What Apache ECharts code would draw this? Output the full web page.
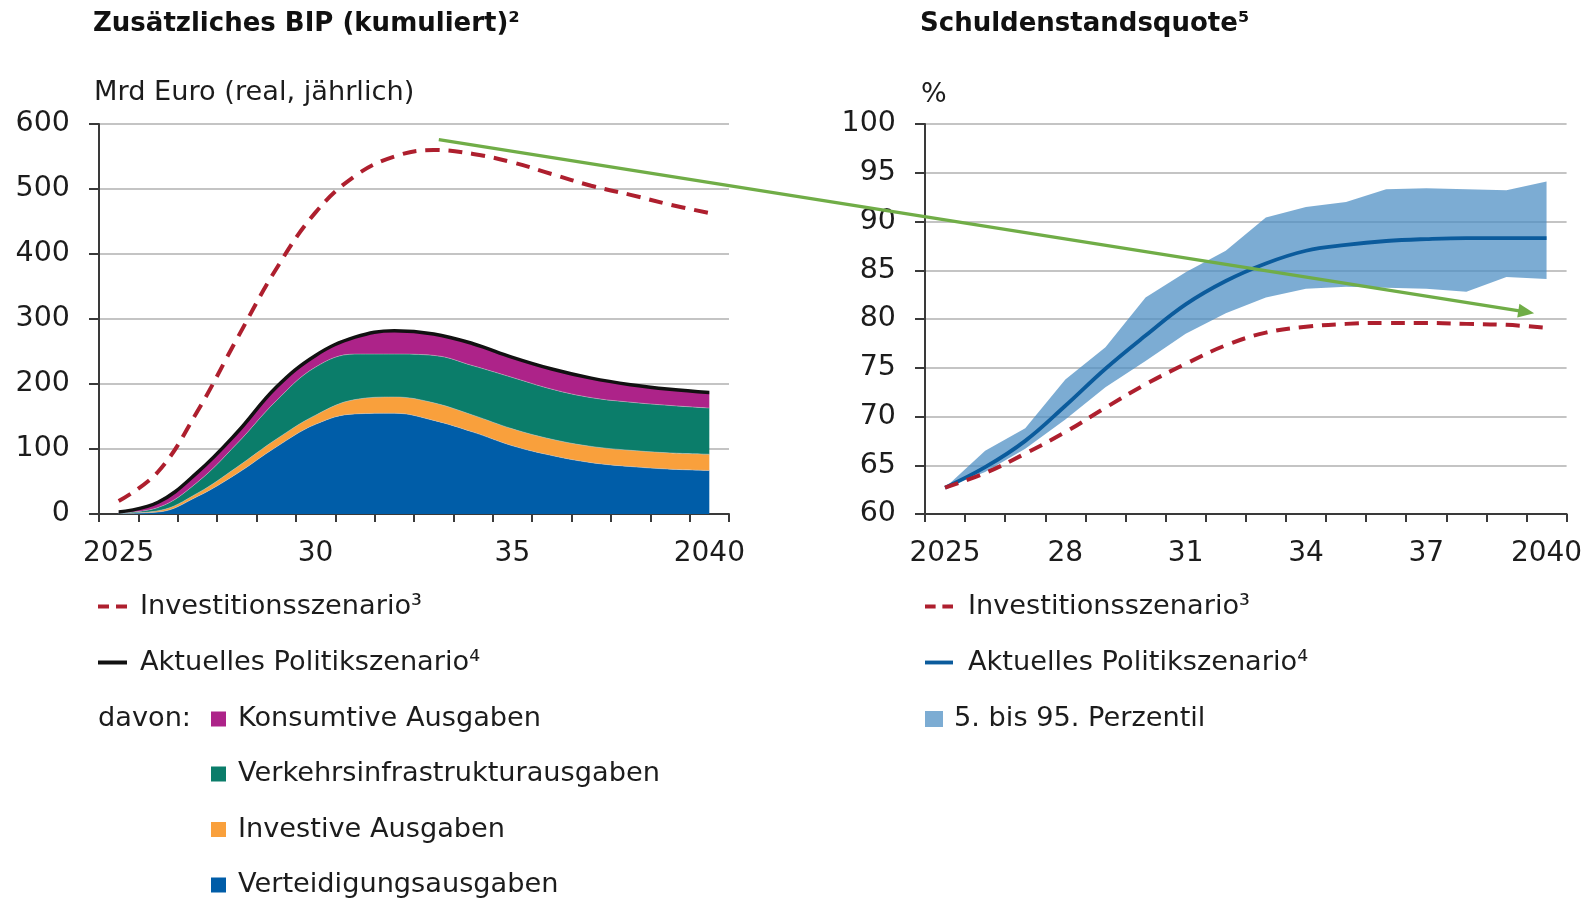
<!DOCTYPE html>
<html><head><meta charset="utf-8">
<script src="https://cdn.jsdelivr.net/npm/echarts@6/dist/echarts.min.js"></script>
<style>html,body{margin:0;padding:0;background:#fff}#c{width:1589px;height:898px}</style>
</head><body><div id="c"></div>
<script>
// ---------- data ----------
const years = ['2025','2026','2027','2028','2029','2030','2031','2032','2033','2034','2035','2036','2037','2038','2039','2040'];
const leftTickLabels  = ['2025','','','','','30','','','','','35','','','','','2040'];
const rightTickLabels = ['2025','','','28','','','31','','','34','','','37','','','2040'];

// left panel: Mrd Euro
const investLeft   = [20, 65, 158, 269, 377, 464, 520, 550, 560, 554, 541, 523, 505, 491, 476, 463];
const aktuellLeft  = [3, 18, 64, 125, 195, 244, 272, 282, 277, 262, 241, 223, 209, 199, 192, 187];
const verteidigung = [1, 3, 27, 62, 103, 138, 154, 155, 144, 126, 105, 90, 79, 73, 69, 67];
const investiv     = [0, 2, 5, 10, 12, 14, 22, 25, 27, 26, 26, 25, 25, 25, 25, 25];
const verkehr      = [1, 5, 17, 36, 59, 74, 70, 66, 73, 76, 79, 77, 75, 74, 73, 71];
const konsum       = [1, 8, 15, 17, 21, 18, 26, 36, 33, 34, 31, 31, 30, 27, 25, 24];

// right panel: %
const investRight  = [62.7, 64.2, 66.2, 68.4, 70.9, 73.3, 75.4, 77.3, 78.6, 79.2, 79.5, 79.6, 79.6, 79.5, 79.4, 79.1];
const aktuellRight = [62.7, 64.8, 67.5, 71.1, 74.9, 78.3, 81.5, 83.9, 85.7, 87.0, 87.6, 88.0, 88.2, 88.3, 88.3, 88.3];
const p95          = [62.7, 66.5, 68.8, 73.8, 77.1, 82.2, 84.8, 87.0, 90.4, 91.5, 92.0, 93.3, 93.4, 93.3, 93.2, 94.1];
const p5           = [62.7, 64.3, 66.7, 69.7, 73.0, 75.7, 78.5, 80.6, 82.2, 83.1, 83.3, 83.2, 83.1, 82.8, 84.3, 84.1];

// annotation arrow (data units of each panel)
const arrowFrom = {xIndex: 8.13, value: 576};
const arrowTo   = {xIndex: 14.69, value: 80.6};

const LABELS = {
  invL: 'Investitionsszenario³', aktL: 'Aktuelles Politikszenario⁴',
  kons: 'Konsumtive Ausgaben', verk: 'Verkehrsinfrastrukturausgaben',
  inv: 'Investive Ausgaben', vert: 'Verteidigungsausgaben',
  invR: 'Investitionsszenario³', aktR: 'Aktuelles Politikszenario⁴',
  band: '5. bis 95. Perzentil'
};

// ---------- styles ----------
const FONT = 'DejaVu Sans';
const TXT = '#1c1c1c';
const AX = '#3a3a3a';
const C = {
  blue: '#005DA8', orange: '#F9A03C', green: '#0B7D6A', magenta: '#AD2389',
  red: '#AE1F2E', black: '#111111', bline: '#0B5B9C', band: '#4A8CC2', bandLegend: '#7CACD3', arrow: '#70AD47'
};
const DASH_ICON = 'path://M0,0H11V4H0Z M18,0H29V4H18Z';
const LINE_ICON = 'path://M0,0H29V4H0Z';

function xAxis(gi, labels) {
  return {
    type: 'category', gridIndex: gi, data: years, boundaryGap: true,
    axisLine: {lineStyle: {color: AX, width: 2}},
    axisTick: {show: true, interval: 0, length: 8, lineStyle: {color: AX, width: 2}},
    axisLabel: {interval: 0, formatter: (v, i) => labels[i], color: TXT, fontFamily: FONT, fontSize: 28, margin: 26},
    splitLine: {show: false}
  };
}
function yAxis(gi, min, max, interval) {
  return {
    type: 'value', gridIndex: gi, min: min, max: max, interval: interval,
    axisLine: {show: true, lineStyle: {color: AX, width: 2}},
    axisTick: {show: true, length: 10, lineStyle: {color: AX, width: 2}},
    axisLabel: {color: TXT, fontFamily: FONT, fontSize: 28.5, margin: 29},
    splitLine: {lineStyle: {color: '#c4c4c4', width: 2}}
  };
}
function areaSeries(name, data, color) {
  return {
    name: name, type: 'line', xAxisIndex: 0, yAxisIndex: 0, stack: 'L', data: data,
    smooth: 0.4, symbol: 'none', lineStyle: {width: 0.8, color: 'rgba(200,200,200,0.6)'},
    areaStyle: {color: color, opacity: 1}, itemStyle: {color: color}
  };
}
// one legend row per entry (centre y given), so rows never wrap
function legendRow(left, centerY, name, icon, w, h, gap, itemStyle) {
  const d = {name: name, icon: icon};
  if (itemStyle) d.itemStyle = itemStyle;
  return {
    left: left, top: centerY - 15, padding: 0, orient: 'vertical', itemWidth: w, itemHeight: h,
    selectedMode: false, formatter: n => LABELS[n],
    textStyle: {fontFamily: FONT, fontSize: 27.2, color: TXT, lineHeight: 30, padding: [0, 0, 0, gap]},
    data: [d]
  };
}

const chart = echarts.init(document.getElementById('c'), null, {renderer: 'canvas'});
const option = {
  animation: false,
  backgroundColor: '#ffffff',
  title: [
    {text: 'Zusätzliches BIP (kumuliert)²', left: 93, top: 11, padding: 0,
     textStyle: {fontFamily: FONT, fontWeight: 'bold', fontSize: 26, color: '#111'}},
    {text: 'Schuldenstandsquote⁵', left: 920, top: 11, padding: 0,
     textStyle: {fontFamily: FONT, fontWeight: 'bold', fontSize: 26, color: '#111'}},
    {text: 'Mrd Euro (real, jährlich)', left: 94, top: 79, padding: 0,
     textStyle: {fontFamily: FONT, fontWeight: 'normal', fontSize: 27.2, color: TXT}},
    {text: '%', left: 921, top: 81, padding: 0,
     textStyle: {fontFamily: FONT, fontWeight: 'normal', fontSize: 27, color: TXT}}
  ],
  grid: [
    {left: 99, top: 124, width: 630, height: 390, containLabel: false},
    {left: 925, top: 124, width: 641.6, height: 390, containLabel: false}
  ],
  xAxis: [xAxis(0, leftTickLabels), xAxis(1, rightTickLabels)],
  yAxis: [yAxis(0, 0, 600, 100), yAxis(1, 60, 100, 5)],
  legend: [
    legendRow(98, 606.5, 'invL', DASH_ICON, 29, 4, 8),
    legendRow(98, 662.5, 'aktL', LINE_ICON, 29, 4, 8),
    legendRow(211, 719, 'kons', 'rect', 15, 15, 7),
    legendRow(211, 774, 'verk', 'rect', 15, 15, 7),
    legendRow(211, 829.5, 'inv', 'rect', 15, 15, 7),
    legendRow(211, 885, 'vert', 'rect', 15, 15, 7),
    legendRow(925, 606.5, 'invR', DASH_ICON, 28, 4, 10),
    legendRow(925, 662.5, 'aktR', LINE_ICON, 28, 4, 10),
    legendRow(925, 719, 'band', 'rect', 18, 16, 6, {color: C.bandLegend})
  ],
  series: [
    areaSeries('vert', verteidigung, C.blue),
    areaSeries('inv', investiv, C.orange),
    areaSeries('verk', verkehr, C.green),
    areaSeries('kons', konsum, C.magenta),
    {name: 'aktL', type: 'line', xAxisIndex: 0, yAxisIndex: 0, data: aktuellLeft, smooth: 0.4, symbol: 'none', z: 5,
     lineStyle: {color: C.black, width: 3.5}, itemStyle: {color: C.black}},
    {name: 'invL', type: 'line', xAxisIndex: 0, yAxisIndex: 0, data: investLeft, smooth: 0.4, symbol: 'none', z: 5,
     lineStyle: {color: C.red, width: 4, type: [14, 9]}, itemStyle: {color: C.red}},

    {name: 'p5', type: 'line', xAxisIndex: 1, yAxisIndex: 1, stack: 'band', data: p5, symbol: 'none',
     lineStyle: {width: 0}, silent: true},
    {name: 'band', type: 'line', xAxisIndex: 1, yAxisIndex: 1, stack: 'band',
     data: p95.map((v, i) => +(v - p5[i]).toFixed(2)), symbol: 'none',
     lineStyle: {width: 0}, areaStyle: {color: C.band, opacity: 0.72}, itemStyle: {color: C.bandLegend}},
    {name: 'aktR', type: 'line', xAxisIndex: 1, yAxisIndex: 1, data: aktuellRight, smooth: 0.4, symbol: 'none', z: 5,
     lineStyle: {color: C.bline, width: 3.8}, itemStyle: {color: C.bline}},
    {name: 'invR', type: 'line', xAxisIndex: 1, yAxisIndex: 1, data: investRight, smooth: 0.4, symbol: 'none', z: 5,
     lineStyle: {color: C.red, width: 4, type: [14, 9]}, itemStyle: {color: C.red}}
  ]
};
chart.setOption(option);

// green annotation arrow, positioned via the axes
function toPx(gi, idxFloat, val) {
  const i0 = Math.floor(idxFloat), f = idxFloat - i0;
  const a = chart.convertToPixel({gridIndex: gi}, [i0, val]);
  const b = chart.convertToPixel({gridIndex: gi}, [i0 + 1, val]);
  return [a[0] + (b[0] - a[0]) * f, a[1]];
}
const p0 = toPx(0, arrowFrom.xIndex, arrowFrom.value);
const p1 = toPx(1, arrowTo.xIndex, arrowTo.value);
const dx = p1[0] - p0[0], dy = p1[1] - p0[1], L = Math.hypot(dx, dy);
const ux = dx / L, uy = dy / L, hl = 16, hw = 7;
const base = [p1[0] - ux * hl, p1[1] - uy * hl];
chart.setOption({
  graphic: [
    {type: 'text', left: 98, top: 704, style: {text: 'davon:', font: '27.2px "DejaVu Sans"', fill: TXT, lineHeight: 30}},
    {type: 'line', z: 100, shape: {x1: p0[0], y1: p0[1], x2: base[0] + ux, y2: base[1] + uy}, style: {stroke: C.arrow, lineWidth: 3.2}},
    {type: 'polygon', z: 100, shape: {points: [p1, [base[0] - uy * hw, base[1] + ux * hw], [base[0] + uy * hw, base[1] - ux * hw]]},
     style: {fill: C.arrow}}
  ]
});
</script></body></html>
